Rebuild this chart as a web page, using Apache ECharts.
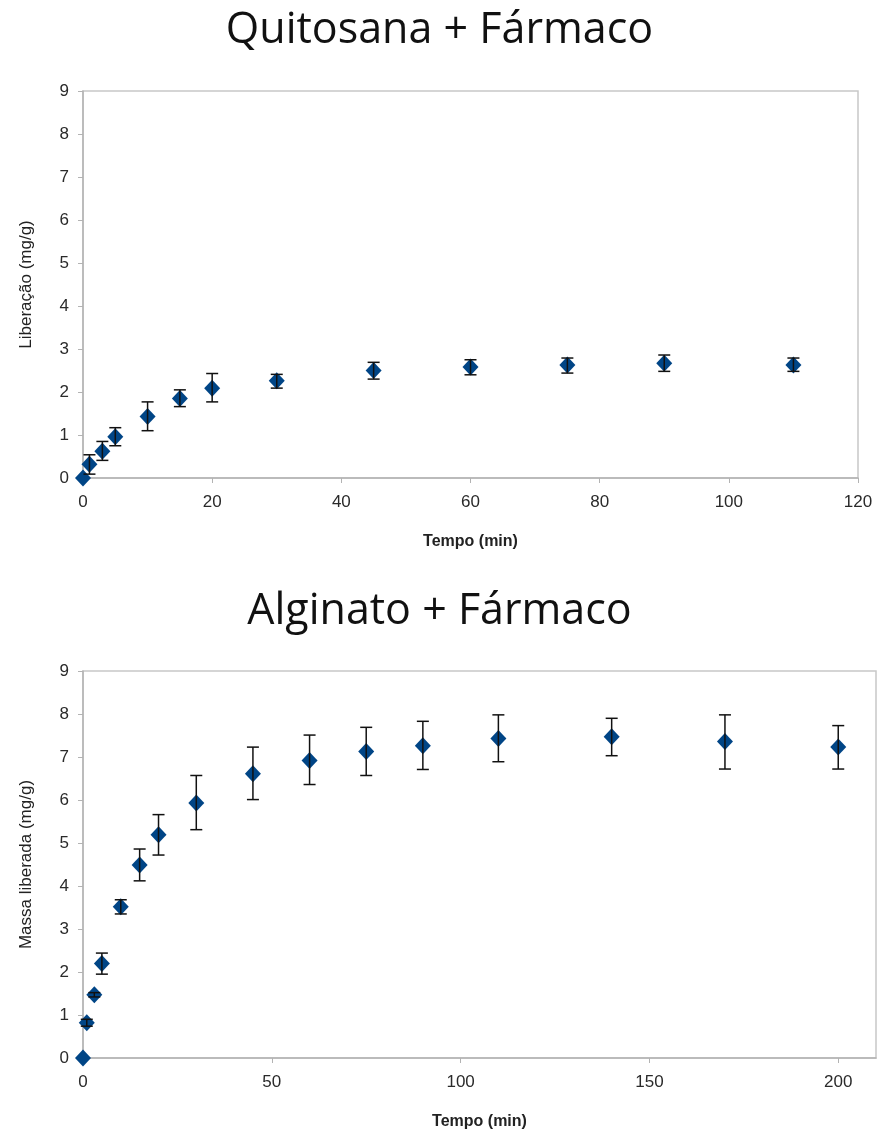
<!DOCTYPE html>
<html><head><meta charset="utf-8">
<script src="https://cdn.jsdelivr.net/npm/echarts@6/dist/echarts.min.js"></script>
<style>html,body{margin:0;padding:0;background:#fff}#c{width:879px;height:1133px}</style>
</head><body><div id="c"></div>
<script>
// Quitosana + Fármaco
const qTime = [0, 1, 3, 5, 10, 15, 20, 30, 45, 60, 75, 90, 110];
const qMean = [0, 0.32, 0.62, 0.96, 1.43, 1.85, 2.09, 2.26, 2.50, 2.58, 2.63, 2.67, 2.63];
const qLow  = [0, 0.09, 0.41, 0.75, 1.10, 1.66, 1.77, 2.09, 2.30, 2.40, 2.44, 2.48, 2.48];
const qHigh = [0, 0.54, 0.85, 1.17, 1.77, 2.05, 2.43, 2.41, 2.69, 2.75, 2.79, 2.86, 2.79];
// Alginato + Fármaco
const aTime = [0, 1, 3, 5, 10, 15, 20, 30, 45, 60, 75, 90, 110, 140, 170, 200];
const aMean = [0, 0.82, 1.47, 2.20, 3.52, 4.49, 5.19, 5.93, 6.61, 6.92, 7.13, 7.26, 7.43, 7.47, 7.36, 7.23];
const aLow  = [0, 0.74, 1.42, 1.95, 3.35, 4.12, 4.72, 5.31, 6.01, 6.36, 6.57, 6.71, 6.89, 7.03, 6.72, 6.72];
const aHigh = [0, 0.90, 1.52, 2.44, 3.68, 4.86, 5.66, 6.57, 7.23, 7.51, 7.69, 7.83, 7.98, 7.90, 7.98, 7.73];

const titles = ['Quitosana + Fármaco', 'Alginato + Fármaco'];
const yNames = ['Liberação (mg/g)', 'Massa liberada (mg/g)'];
const xName = 'Tempo (min)';
const yTicks = [0,1,2,3,4,5,6,7,8,9];
const xTicksQ = [0,20,40,60,80,100,120];
const xTicksA = [0,50,100,150,200];

const blue = '#004586';
const axisGray = '#b3b3b3';
const labelFont = '"Liberation Sans Narrow", "Liberation Sans", Arial, sans-serif';

function pts(t, m){ return t.map((x,i)=>[x,m[i]]); }
function errs(t, lo, hi){ return t.map((x,i)=>[x,lo[i],hi[i]]); }

function errRender(params, api){
  const x = api.value(0), lo = api.value(1), hi = api.value(2);
  if (hi - lo <= 0) return null;
  const p1 = api.coord([x, lo]), p2 = api.coord([x, hi]);
  const hw = 6;
  const st = {stroke:'#111', lineWidth:1.5};
  return {type:'group', children:[
    {type:'line', shape:{x1:p1[0],y1:p1[1],x2:p2[0],y2:p2[1]}, style:st},
    {type:'line', shape:{x1:p1[0]-hw,y1:p1[1],x2:p1[0]+hw,y2:p1[1]}, style:st},
    {type:'line', shape:{x1:p2[0]-hw,y1:p2[1],x2:p2[0]+hw,y2:p2[1]}, style:st}
  ]};
}

function xAxis(idx, max, ticks){
  return {
    type:'value', gridIndex:idx, min:0, max:max, interval: ticks[1]-ticks[0],
    name:xName, nameLocation:'middle', nameGap:56,
    nameTextStyle:{fontFamily:labelFont, fontSize:16, color:'#222', fontWeight:'bold'},
    axisLine:{show:true, lineStyle:{color:axisGray, width:1.5}},
    axisTick:{show:true, length:5, lineStyle:{color:axisGray}, customValues:ticks},
    axisLabel:{fontFamily:labelFont, fontSize:17, color:'#2a2a2a', margin:16, customValues:ticks},
    splitLine:{show:false}
  };
}
function yAxis(idx, name){
  return {
    type:'value', gridIndex:idx, min:0, max:9, interval:1,
    name:name, nameLocation:'middle', nameGap:48,
    nameTextStyle:{fontFamily:labelFont, fontSize:17, color:'#222'},
    axisLine:{show:true, lineStyle:{color:axisGray, width:1.5}},
    axisTick:{show:true, length:5, lineStyle:{color:axisGray}},
    axisLabel:{fontFamily:labelFont, fontSize:17, color:'#2a2a2a', margin:14,
      formatter:(v)=> yTicks.includes(v) ? String(v) : ''},
    splitLine:{show:false}
  };
}

const chart = echarts.init(document.getElementById('c'), null, {renderer:'canvas'});
chart.setOption({
  backgroundColor:'#fff',
  animation:false,
  title:[
    {text:titles[0], left:'center', top:4, textStyle:{fontFamily:'"Open Sans", "Noto Sans", sans-serif', fontSize:43, fontWeight:'normal', color:'#111'}},
    {text:titles[1], left:'center', top:585, textStyle:{fontFamily:'"Open Sans", "Noto Sans", sans-serif', fontSize:43, fontWeight:'normal', color:'#111'}}
  ],
  grid:[
    {left:83, right:21, top:91, height:387, show:true, borderColor:'#c8c8c8', borderWidth:1.5, backgroundColor:'transparent'},
    {left:83, right:3, top:671, height:387, show:true, borderColor:'#c8c8c8', borderWidth:1.5, backgroundColor:'transparent'}
  ],
  xAxis:[xAxis(0,120,xTicksQ), xAxis(1,210,xTicksA)],
  yAxis:[yAxis(0,yNames[0]), yAxis(1,yNames[1])],
  series:[
    {type:'scatter', xAxisIndex:0, yAxisIndex:0, data:pts(qTime,qMean), symbol:'diamond', symbolSize:[16,17], itemStyle:{color:blue, opacity:1}, z:2},
    {type:'custom', xAxisIndex:0, yAxisIndex:0, data:errs(qTime,qLow,qHigh), renderItem:errRender, z:3, encode:{x:0,y:[1,2]}},
    {type:'scatter', xAxisIndex:1, yAxisIndex:1, data:pts(aTime,aMean), symbol:'diamond', symbolSize:[16,17], itemStyle:{color:blue, opacity:1}, z:2},
    {type:'custom', xAxisIndex:1, yAxisIndex:1, data:errs(aTime,aLow,aHigh), renderItem:errRender, z:3, encode:{x:0,y:[1,2]}}
  ]
});
</script></body></html>
